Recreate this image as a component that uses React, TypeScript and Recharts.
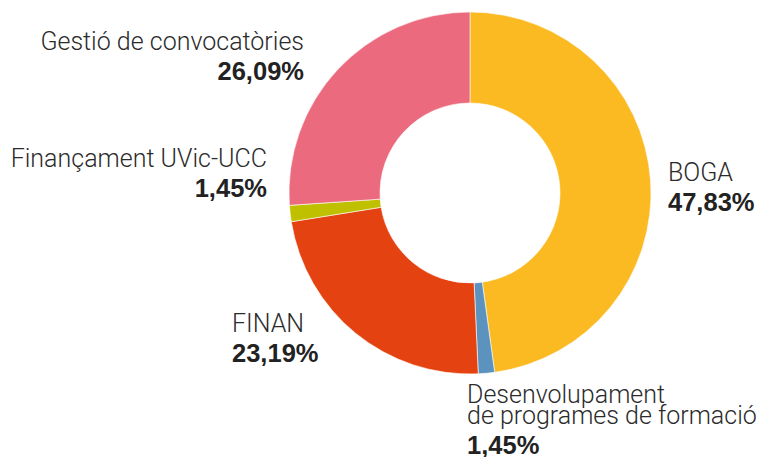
import { PieChart, Pie, Cell } from 'recharts';

const categories = [
  'BOGA',
  'Desenvolupament de programes de formació',
  'FINAN',
  'Finançament UVic-UCC',
  'Gestió de convocatòries',
];
const shares = [47.83, 1.45, 23.19, 1.45, 26.09];
const shareLabels = ['47,83%', '1,45%', '23,19%', '1,45%', '26,09%'];
const labelLines = [
  ['BOGA'],
  ['Desenvolupament', 'de programes de formació'],
  ['FINAN'],
  ['Finançament UVic-UCC'],
  ['Gestió de convocatòries'],
];
const colors = ['#FBBA22', '#5B93BE', '#E54212', '#BEC000', '#EC6A7E'];

const data = categories.map((name, i) => ({ name, value: shares[i] }));

// where each label block sits, relative to the pie centre
const LABEL_POS = [
  { dx: 198, dy: -12, anchor: 'start' },
  { dx: -3, dy: 210, anchor: 'start' },
  { dx: -238, dy: 139, anchor: 'start' },
  { dx: -203, dy: -26, anchor: 'end' },
  { dx: -166, dy: -143, anchor: 'end' },
];

const LIGHT = 'Roboto, "Liberation Sans", Arial, sans-serif';
const BOLD = '"Liberation Sans", Arial, sans-serif';

const renderLabel = (props: any) => {
  const { cx, cy, index } = props;
  const pos = LABEL_POS[index];
  const x = cx + pos.dx;
  const y = cy + pos.dy;
  const lines = labelLines[index];
  const lineGap = 21;
  return (
    <g key={`lbl-${index}`}>
      <text
        x={x}
        y={y}
        textAnchor={pos.anchor}
        fontFamily={LIGHT}
        fontWeight={300}
        fontSize={25}
        fill="#2b2b2b"
      >
        {lines.map((t, j) => (
          <tspan key={j} x={x} dy={j === 0 ? 0 : lineGap}>
            {t}
          </tspan>
        ))}
      </text>
      <text
        x={x}
        y={y + (lines.length - 1) * lineGap + 30}
        textAnchor={pos.anchor}
        fontFamily={BOLD}
        fontWeight={700}
        fontSize={25.5}
        fill="#222"
      >
        {shareLabels[index]}
      </text>
    </g>
  );
};

export default function App() {
  return (
    <div style={{ position: 'absolute', left: 0, top: 0, width: 758, height: 457, background: '#fff' }}>
      <PieChart width={758} height={457} margin={{ top: 0, right: 0, bottom: 0, left: 0 }}>
        <Pie
          data={data}
          dataKey="value"
          nameKey="name"
          cx={470}
          cy={193}
          innerRadius={90}
          outerRadius={181}
          startAngle={90}
          endAngle={-270}
          stroke="#fff"
          strokeWidth={0.6}
          label={renderLabel}
          labelLine={false}
          isAnimationActive={false}
        >
          {data.map((d, i) => (
            <Cell key={d.name} fill={colors[i]} />
          ))}
        </Pie>
      </PieChart>
    </div>
  );
}
